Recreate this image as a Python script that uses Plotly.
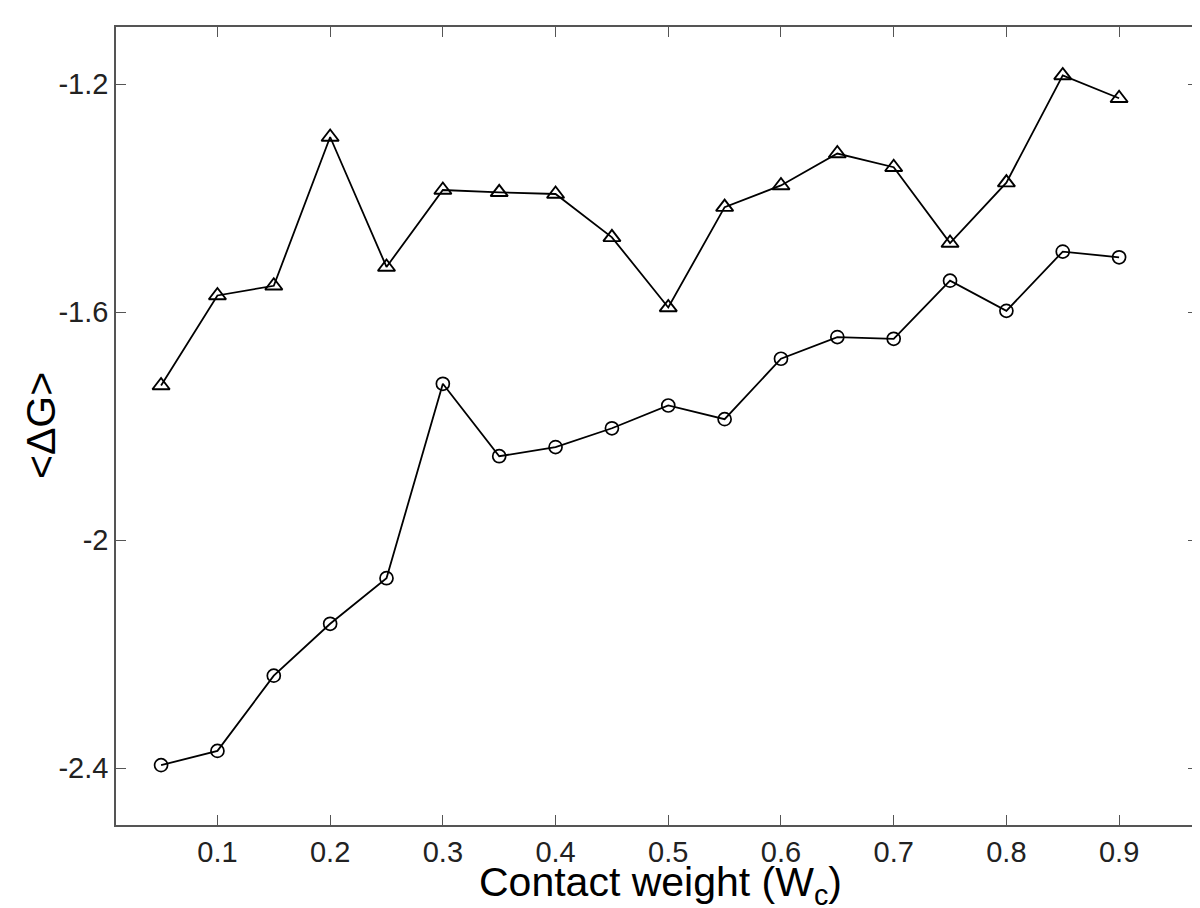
import plotly.graph_objects as go

wc = [0.05, 0.1, 0.15, 0.2, 0.25, 0.3, 0.35, 0.4, 0.45, 0.5, 0.55, 0.6, 0.65, 0.7, 0.75, 0.8, 0.85, 0.9]
triangle_dg = [-1.729, -1.571, -1.554, -1.293, -1.521, -1.386, -1.390, -1.393, -1.469, -1.592,
               -1.416, -1.378, -1.322, -1.346, -1.479, -1.373, -1.185, -1.225]
circle_dg = [-2.395, -2.370, -2.238, -2.147, -2.067, -1.726, -1.853, -1.837, -1.804, -1.764,
             -1.788, -1.682, -1.644, -1.647, -1.545, -1.598, -1.494, -1.504]

x_tickvals = [0.1, 0.2, 0.3, 0.4, 0.5, 0.6, 0.7, 0.8, 0.9]
x_ticktext = ["0.1", "0.2", "0.3", "0.4", "0.5", "0.6", "0.7", "0.8", "0.9"]
y_tickvals = [-2.4, -2.0, -1.6, -1.2]
y_ticktext = ["-2.4", "-2", "-1.6", "-1.2"]

x_title = "Contact weight (W<sub>c</sub>)"
y_title = "&lt;ΔG&gt;"

FONT = "Liberation Sans, Arial, sans-serif"

fig = go.Figure()
fig.add_trace(go.Scatter(
    x=wc, y=triangle_dg, mode="lines+markers",
    line=dict(color="black", width=1.8),
    marker=dict(symbol="triangle-up-open", size=15, color="black", line=dict(width=1.9, color="black")),
    showlegend=False,
))
fig.add_trace(go.Scatter(
    x=wc, y=circle_dg, mode="lines+markers",
    line=dict(color="black", width=1.8),
    marker=dict(symbol="circle-open", size=13, color="black", line=dict(width=1.7, color="black")),
    showlegend=False,
))

axis_common = dict(
    showgrid=False, zeroline=False,
    showline=True, linecolor="#555555", linewidth=1.5, mirror="ticks",
    ticks="inside", ticklen=10, tickwidth=1.2, tickcolor="#555555",
    tickfont=dict(family=FONT, size=29, color="#222222"),
)

fig.update_layout(
    width=1200, height=908,
    margin=dict(l=108, r=8, t=19, b=91),
    paper_bgcolor="white", plot_bgcolor="white",
    xaxis=dict(range=[0.01, 0.97], tickvals=x_tickvals, ticktext=x_ticktext, **axis_common),
    yaxis=dict(range=[-2.5, -1.1], tickvals=y_tickvals, ticktext=y_ticktext, **axis_common),
    annotations=[
        dict(text=x_title, xref="paper", yref="paper", x=0.5, y=0,
             xanchor="center", yanchor="top", xshift=3, yshift=-32, showarrow=False,
             font=dict(family=FONT, size=41, color="black")),
        dict(text=y_title, xref="paper", yref="paper", x=0, y=0.5, textangle=-90,
             xanchor="center", yanchor="middle", xshift=-75, showarrow=False,
             font=dict(family=FONT, size=41, color="black")),
    ],
)

fig.write_html("out.html")
